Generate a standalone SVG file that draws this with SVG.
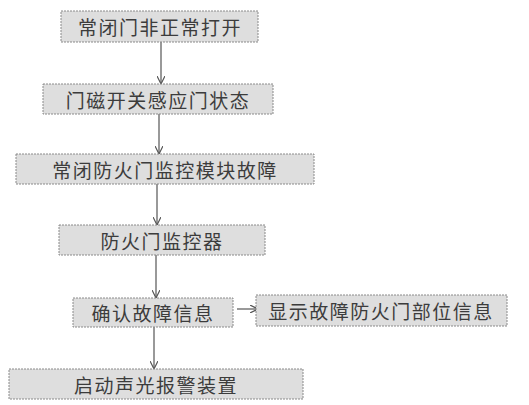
<svg xmlns="http://www.w3.org/2000/svg" width="529" height="405" viewBox="0 0 529 405">
<style>
.box{fill:#dedede;stroke:#8a8a8a;stroke-width:1;stroke-dasharray:2 1}
.t{font-family:"Noto Sans CJK SC","Liberation Sans",sans-serif;font-size:19px;fill:#3c3c3c;text-anchor:middle;dominant-baseline:central;letter-spacing:1.5px}
.c{stroke:#555;stroke-width:1.2;fill:none;marker-end:url(#ah)}
</style>
<defs>
<marker id="ah" viewBox="0 0 10 10" refX="10" refY="5" markerWidth="8" markerHeight="8" markerUnits="userSpaceOnUse" orient="auto">
<path d="M0,0 L10,5 L0,10" fill="none" stroke="#555" stroke-width="1.5"/>
</marker>
</defs>
<rect width="529" height="405" fill="#ffffff"/>
<g id="connectors">
<line class="c" x1="161" y1="42" x2="161" y2="84"/>
<line class="c" x1="159" y1="114" x2="159" y2="154"/>
<line class="c" x1="157" y1="184" x2="157" y2="225"/>
<line class="c" x1="156" y1="255" x2="156" y2="298"/>
<line class="c" x1="154" y1="327" x2="154" y2="369"/>
<line class="c" x1="237" y1="309" x2="258" y2="309"/>
</g>
<g id="n1"><rect class="box" x="61" y="11" width="197" height="31"/><text class="t" x="160" y="26.5">常闭门非正常打开</text></g>
<g id="n2"><rect class="box" x="43" y="84" width="230" height="30"/><text class="t" x="158" y="99">门磁开关感应门状态</text></g>
<g id="n3"><rect class="box" x="16" y="154" width="298" height="30"/><text class="t" x="165" y="169">常闭防火门监控模块故障</text></g>
<g id="n4"><rect class="box" x="59" y="225" width="206" height="30"/><text class="t" x="162" y="240">防火门监控器</text></g>
<g id="n5"><rect class="box" x="73" y="298" width="160" height="29"/><text class="t" x="153" y="312.5">确认故障信息</text></g>
<g id="n6"><rect class="box" x="256" y="295" width="251" height="31"/><text class="t" x="381" y="310.5">显示故障防火门部位信息</text></g>
<g id="n7"><rect class="box" x="9" y="369" width="294" height="30"/><text class="t" x="156" y="384">启动声光报警装置</text></g>
</svg>
